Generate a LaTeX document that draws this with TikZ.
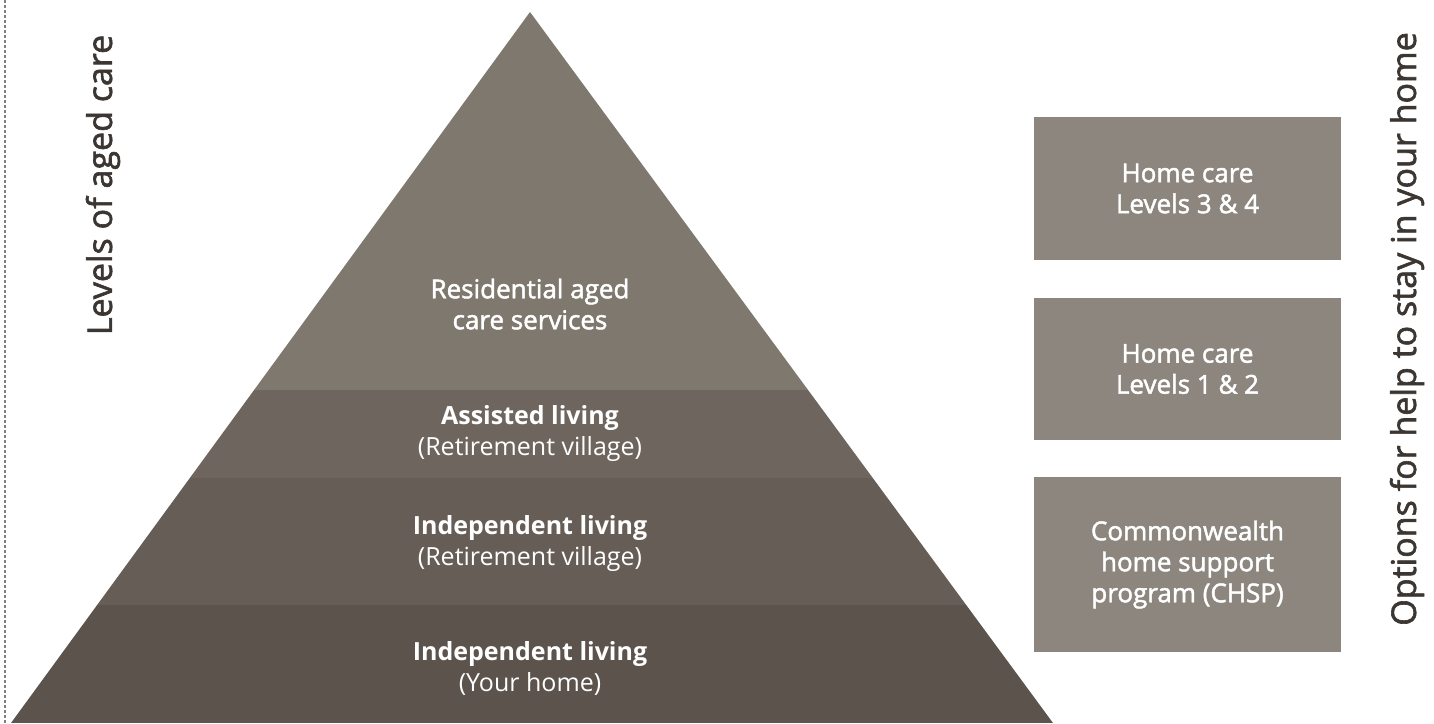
\documentclass[tikz,border=0pt]{standalone}
\usepackage{fontspec}
\setmainfont{Open Sans}
\newfontfamily\medfont{Open Sans}[FakeBold=1.8]
\usepackage{tikz}

\definecolor{bandtop}{HTML}{7F786E}
\definecolor{bandtwo}{HTML}{6E665E}
\definecolor{bandthree}{HTML}{655D56}
\definecolor{bandbase}{HTML}{5B534C}
\definecolor{optbox}{HTML}{8C867F}
\definecolor{sidetext}{HTML}{3B3632}

\tikzset{
  level/.style={text=white, align=center, font=\fontsize{25}{31}\selectfont},
  option/.style={fill=optbox, text=white, align=center, inner sep=0pt,
    minimum width=307pt, font=\medfont\fontsize{26}{31}\selectfont},
  sidelabel/.style={rotate=90, text=sidetext, font=\medfont\fontsize{34}{38}\selectfont}
}

\begin{document}
\begin{tikzpicture}[x=1pt,y=-1pt]
  \useasboundingbox (0,0) rectangle (1434,723);

  % Margin line
  \draw[gray, line width=1.2pt, dash pattern=on 2.5pt off 2.5pt] (5,0) -- (5,723);

  % Pyramid
  \coordinate (apex) at (530,12);
  \coordinate (baseL) at (11,723);
  \coordinate (baseR) at (1053,723);
  \begin{scope}
    \clip (apex) -- (baseL) -- (baseR) -- cycle;
    \fill[bandtop] (0,0) rectangle (1434,390);
    \fill[bandtwo] (0,390) rectangle (1434,478);
    \fill[bandthree] (0,478) rectangle (1434,605);
    \fill[bandbase] (0,605) rectangle (1434,723);
  \end{scope}

  % Levels
  \node[level, font=\medfont\fontsize{26}{31}\selectfont] (residential) at (530,304) {Residential aged\\care services};
  \node[level] (assisted) at (530,433) {\textbf{Assisted living}\\(Retirement village)};
  \node[level] (village) at (530,543) {\textbf{Independent living}\\(Retirement village)};
  \node[level] (home) at (530,668) {\textbf{Independent living}\\(Your home)};

  % Options
  \node[option, minimum height=143pt] (hc34) at (1187.5,188.5) {Home care\\Levels 3 \& 4};
  \node[option, minimum height=142pt] (hc12) at (1187.5,369) {Home care\\Levels 1 \& 2};
  \node[option, minimum height=175pt] (chsp) at (1187.5,564.5) {Commonwealth\\home support\\program (CHSP)};

  % Side labels
  \node[sidelabel] (levels) at (103,185) {Levels of aged care};
  \node[sidelabel] (options) at (1407,329) {Options for help to stay in your home};
\end{tikzpicture}
\end{document}
